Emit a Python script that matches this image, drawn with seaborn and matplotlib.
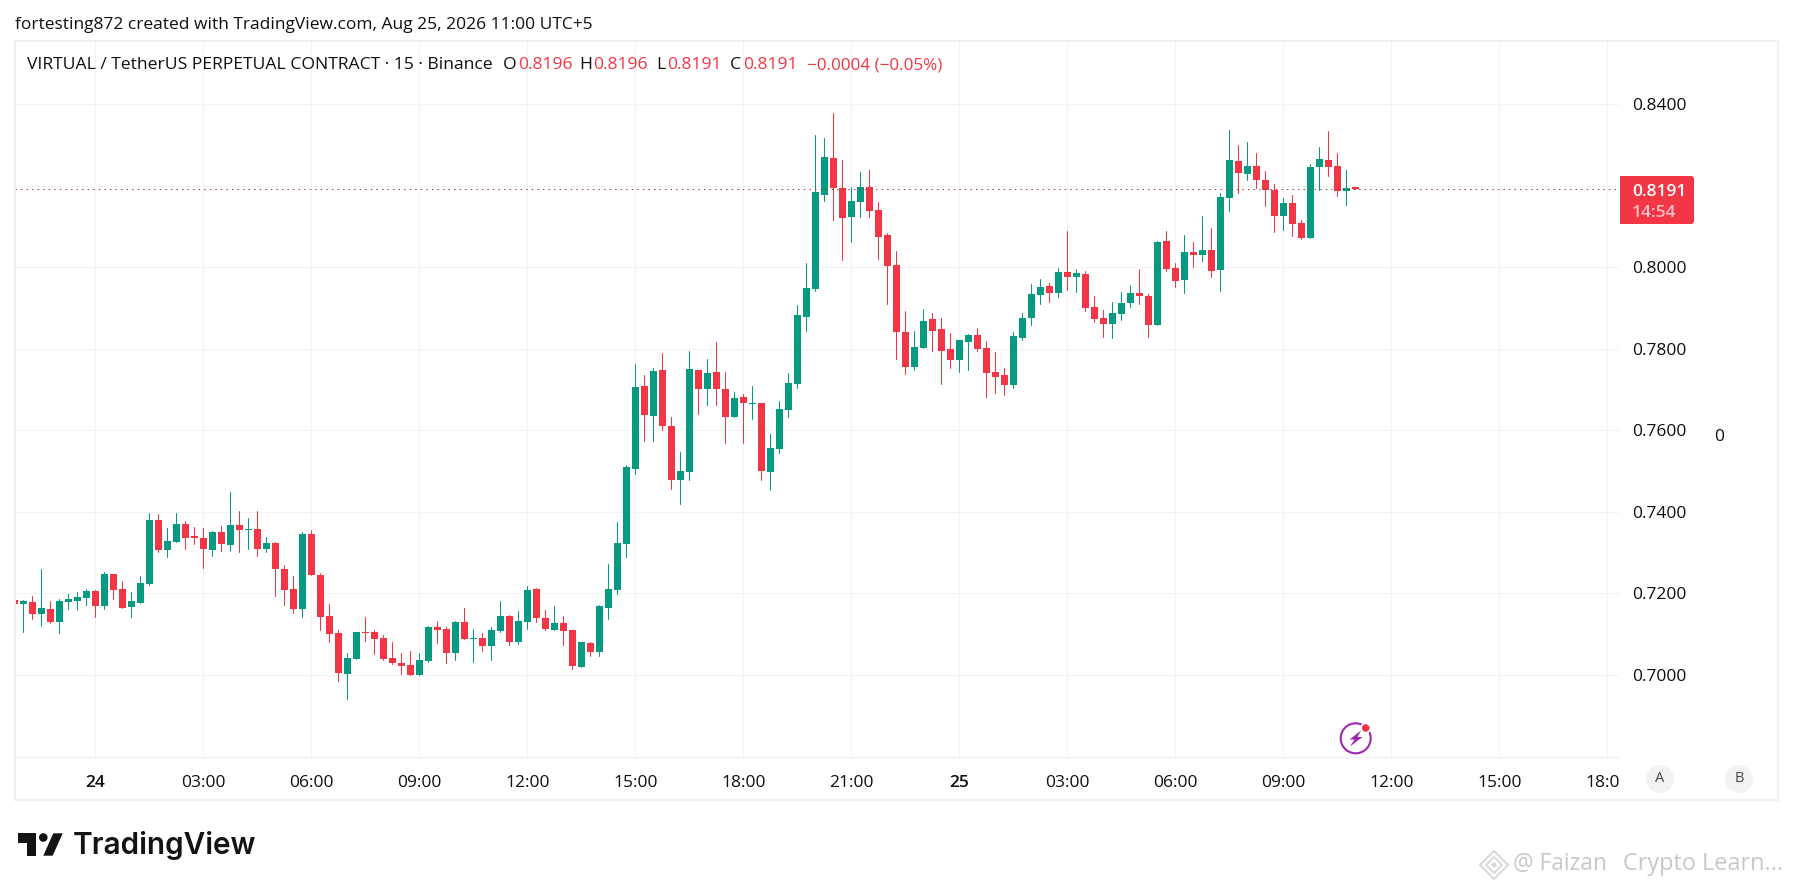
import numpy as np
import pandas as pd
import seaborn as sns
import matplotlib
matplotlib.use("Agg")
import matplotlib.pyplot as plt
from matplotlib.patches import Rectangle, FancyBboxPatch, Circle, Polygon
from matplotlib.transforms import Bbox

# 15 minute candles, bar 0 is the 24th 00:00
bars = list(range(-9, 141))

opens = [.7183, .7173, .7178, .7149, .7161, .7129, .7178, .7180, .7188,
         .7205, .7168, .7247, .7210, .7166, .7176, .7222, .7379, .7306, .7325, .7370, .7340,
         .7335, .7306, .7350, .7318, .7367, .7355, .7357, .7308, .7323, .7259, .7210, .7161,
         .7345, .7244, .7144, .7102, .7001, .7038, .7104, .7104, .7090, .7041, .7028, .7023,
         .6999, .7033, .7117, .7112, .7053, .7129, .7087, .7090, .7070, .7107, .7144, .7080,
         .7129, .7210, .7139, .7109, .7126, .7109, .7018, .7077, .7055, .7163, .7207, .7320,
         .7505, .7708, .7635, .7748, .7610, .7478, .7497, .7748, .7701, .7743, .7701, .7632,
         .7681, .7664, .7667, .7497, .7554, .7649, .7713, .7878, .7947, .8177, .8268, .8195,
         .8123, .8160, .8197, .8141, .8079, .8006, .7841, .7755, .7802, .7873, .7848, .7799,
         .7772, .7816, .7834, .7802, .7743, .7735, .7711, .7826, .7875, .7932, .7954, .7937,
         .7988, .7976, .7983, .7902, .7875, .7861, .7885, .7912, .7937, .7929, .7858, .8064,
         .7998, .7969, .8037, .8030, .8042, .7993, .8170, .8261, .8229, .8249, .8214, .8190,
         .8126, .8158, .8109, .8072, .8246, .8263, .8249, .8187, .8196]

highs = [.7183, .7183, .7193, .7259, .7180, .7185, .7198, .7203, .7210,
         .7207, .7252, .7247, .7230, .7203, .7242, .7397, .7394, .7360, .7397, .7377, .7362,
         .7360, .7352, .7365, .7448, .7401, .7384, .7401, .7338, .7325, .7269, .7242, .7350,
         .7355, .7249, .7173, .7109, .7053, .7104, .7141, .7109, .7097, .7080, .7053, .7058,
         .7053, .7119, .7131, .7117, .7131, .7163, .7112, .7102, .7117, .7180, .7146, .7156,
         .7217, .7212, .7158, .7168, .7144, .7109, .7080, .7080, .7171, .7271, .7374, .7514,
         .7762, .7735, .7753, .7789, .7632, .7546, .7794, .7748, .7775, .7816, .7743, .7694,
         .7689, .7708, .7667, .7591, .7672, .7740, .7907, .8010, .8325, .8317, .8379, .8263,
         .8197, .8234, .8239, .8160, .8084, .8040, .7893, .7843, .7898, .7888, .7875, .7839,
         .7821, .7836, .7851, .7819, .7792, .7753, .7841, .7888, .7959, .7971, .7961, .7998,
         .8089, .7996, .7991, .7929, .7895, .7915, .7939, .7956, .7996, .7934, .8064, .8089,
         .8010, .8079, .8062, .8126, .8096, .8182, .8337, .8300, .8308, .8281, .8236, .8204,
         .8170, .8177, .8116, .8254, .8295, .8335, .8281, .8239, .8196]

lows = [.7173, .7104, .7136, .7119, .7126, .7102, .7161, .7158, .7171,
        .7141, .7161, .7185, .7163, .7141, .7176, .7220, .7301, .7289, .7325, .7308, .7320,
        .7262, .7291, .7303, .7303, .7301, .7308, .7291, .7301, .7193, .7171, .7151, .7141,
        .7244, .7109, .7080, .6984, .6940, .7038, .7082, .7050, .7036, .7026, .7001, .6999,
        .6999, .7031, .7077, .7028, .7036, .7087, .7031, .7058, .7036, .7104, .7072, .7075,
        .7112, .7129, .7109, .7109, .7072, .7014, .7018, .7045, .7045, .7136, .7198, .7289,
        .7492, .7573, .7573, .7600, .7455, .7419, .7478, .7640, .7662, .7662, .7568, .7632,
        .7568, .7627, .7478, .7453, .7544, .7632, .7704, .7843, .7942, .8163, .8116, .8018,
        .8062, .8123, .8123, .8020, .7910, .7775, .7738, .7748, .7802, .7794, .7713, .7753,
        .7743, .7748, .7794, .7681, .7691, .7686, .7704, .7821, .7858, .7910, .7915, .7927,
        .7944, .7939, .7893, .7866, .7829, .7826, .7870, .7902, .7910, .7829, .7858, .7991,
        .7952, .7937, .8001, .8015, .7976, .7942, .8138, .8182, .8214, .8195, .8150, .8087,
        .8091, .8077, .8069, .8072, .8190, .8224, .8175, .8153, .8191]

closes = [.7173, .7180, .7149, .7163, .7129, .7180, .7185, .7190, .7205,
          .7168, .7247, .7207, .7163, .7180, .7225, .7379, .7306, .7328, .7370, .7335, .7335,
          .7308, .7350, .7320, .7367, .7355, .7357, .7308, .7323, .7259, .7207, .7161, .7345,
          .7244, .7141, .7099, .7004, .7041, .7104, .7102, .7087, .7038, .7028, .7021, .6999,
          .7036, .7117, .7109, .7053, .7129, .7087, .7090, .7070, .7109, .7144, .7080, .7131,
          .7207, .7139, .7112, .7126, .7107, .7021, .7080, .7055, .7168, .7210, .7323, .7510,
          .7706, .7637, .7745, .7610, .7478, .7500, .7750, .7701, .7740, .7701, .7632, .7679,
          .7667, .7667, .7500, .7556, .7652, .7716, .7883, .7949, .8185, .8271, .8195, .8121,
          .8163, .8197, .8138, .8074, .8003, .7841, .7755, .7804, .7868, .7843, .7794, .7772,
          .7821, .7834, .7799, .7740, .7731, .7711, .7831, .7875, .7934, .7952, .7937, .7988,
          .7976, .7986, .7900, .7873, .7861, .7888, .7912, .7937, .7929, .7858, .8062, .7996,
          .7966, .8037, .8030, .8042, .7991, .8172, .8263, .8231, .8249, .8214, .8190, .8126,
          .8158, .8106, .8072, .8246, .8266, .8246, .8187, .8195, .8191]

price_ticks = [0.70, 0.72, 0.74, 0.76, 0.78, 0.80, 0.84]
price_grid = [0.82]
time_ticks = list(range(0, 169, 12))
time_labels = ["24", "03:00", "06:00", "09:00", "12:00", "15:00", "18:00", "21:00",
               "25", "03:00", "06:00", "09:00", "12:00", "15:00", "18:00"]
last_price = 0.8191

GREEN = "#089981"
RED = "#F23645"
GRID = "#F3F3F4"
INK = "#0F0F0F"
W, H = 1793, 890

sns.set_theme(style="white")
plt.rcParams["font.family"] = ["Open Sans", "DejaVu Sans"]

df = pd.DataFrame({"bar": bars, "open": opens, "high": highs, "low": lows, "close": closes})
df["dir"] = np.where(df["close"] >= df["open"], "up", "down")
wicks = df.melt(id_vars=["bar", "dir"], value_vars=["high", "low"], value_name="price")
wicks = wicks.sort_values("bar")

fig = plt.figure(figsize=(W / 100, H / 100), dpi=100, facecolor="white")
ax = fig.add_axes([15 / W, 1 - 757 / H, (1619 - 15) / W, (757 - 41) / H])

sns.lineplot(data=wicks, x="bar", y="price", hue="dir", units="bar", estimator=None,
             palette={"up": GREEN, "down": RED}, lw=0.75, sort=False, legend=False, ax=ax)

for d, col in (("up", GREEN), ("down", RED)):
    part = df[df["dir"] == d]
    ax.bar(part["bar"], (part["close"] - part["open"]).abs(),
           bottom=part[["open", "close"]].min(axis=1),
           width=0.78, color=col, linewidth=0, zorder=3)

ax.axhline(last_price, color="#A8323F", lw=0.75, ls=(0, (1.33, 4)), zorder=4)

ax.set_xlim(-8.944, 169.28)
ax.set_ylim(0.6798, 0.8555)
ax.set_xlabel("")
ax.set_ylabel("")
ax.yaxis.tick_right()
ax.set_yticks(price_ticks, [f"{t:.4f}" for t in price_ticks])
ax.set_yticks(price_grid, minor=True)
ax.set_xticks(time_ticks, time_labels)
ax.grid(True, which="both", color=GRID, lw=0.8)
ax.set_axisbelow(True)
ax.tick_params(axis="y", which="both", length=0, pad=9.5, labelsize=12.5, labelcolor=INK)
ax.tick_params(axis="x", length=0, pad=13, labelsize=12.5, labelcolor=INK)
for lab in ax.get_xticklabels():
    if lab.get_text() in ("24", "25"):
        lab.set_fontweight("semibold")
# the last label runs under the price scale
last_lab = ax.get_xticklabels()[-1]
last_lab.set_clip_on(True)
last_lab.set_clip_box(Bbox([[0, 0], [1619, H]]))

for side in ("top", "left", "right"):
    ax.spines[side].set_visible(False)
ax.spines["bottom"].set_color("#EFEFEF")
ax.spines["bottom"].set_linewidth(0.8)

# everything around the chart, in pixel units
ov = fig.add_axes([0, 0, 1, 1], zorder=5)
ov.set_xlim(0, W)
ov.set_ylim(H, 0)
ov.axis("off")
ov.patch.set_alpha(0)

ov.add_patch(Rectangle((15, 41), 1763, 759, fill=False, ec="#F0F0F0", lw=1.5))

ov.text(15, 29, "fortesting872 created with TradingView.com, Aug 25, 2026 11:00 UTC+5",
        fontsize=12.55, color=INK, va="baseline")
ov.text(27, 69, "VIRTUAL / TetherUS PERPETUAL CONTRACT · 15 · Binance",
        fontsize=12.6, color=INK, va="baseline")
for x, t, col in [(503, "O", INK), (518, "0.8196", RED), (579, "H", INK), (593, "0.8196", RED),
                  (656, "L", INK), (667, "0.8191", RED), (730, "C", INK), (743, "0.8191", RED)]:
    ov.text(x, 69, t, fontsize=12.6, color=col, va="baseline")
ov.text(807, 69, "−0.0004 (−0.05%)", fontsize=12.3, color=RED, va="baseline")

# last price tag
ov.add_patch(FancyBboxPatch((1620, 176), 74, 48, boxstyle="round,pad=0,rounding_size=3",
                            fc=RED, ec="none"))
ov.add_patch(Rectangle((1620, 176), 6, 48, fc=RED, ec="none"))
ov.text(1632, 196, "0.8191", fontsize=12.5, fontweight="semibold", color="white", va="baseline")
ov.text(1632, 217, "14:54", fontsize=12.5, fontweight="semibold", color="#FBC3C8", va="baseline")

ov.text(1714, 441, "0", fontsize=12.5, color=INK, va="baseline")

for cx, t in [(1660, "A"), (1739, "B")]:
    ov.add_patch(Circle((cx, 779), 14, fc="#F2F2F2", ec="none"))
    ov.text(cx, 779, t, fontsize=10.5, color="#4A4A4A", ha="center", va="center")

# lightning badge
ov.add_patch(Circle((1355.7, 738.3), 15, fc="white", ec="#9C27B0", lw=1.5))
ov.add_patch(Polygon([(1361, 730.5), (1349.5, 739.5), (1354.5, 739.5), (1350, 746.5),
                      (1362.5, 737), (1357.5, 737)], fc="#9C27B0", ec="none"))
ov.add_patch(Circle((1365.7, 728), 5.5, fc="white", ec="none"))
ov.add_patch(Circle((1365.7, 728), 3.8, fc=RED, ec="none"))

# TradingView logo
ov.add_patch(Polygon([(18, 833.3), (35.7, 833.3), (35.7, 855.7), (26.7, 855.7),
                      (26.7, 842.7), (18, 842.7)], fc="#131313", ec="none"))
ov.add_patch(Circle((43.3, 837.5), 4.3, fc="#131313", ec="none"))
ov.add_patch(Polygon([(53.3, 833.3), (62.7, 833.3), (52.7, 855.7), (43.3, 855.7)],
                     fc="#131313", ec="none"))
ov.text(73, 846, "TradingView", fontsize=21.4, fontweight="semibold", family="Inter",
        color="#131313", va="center")

# watermark
for half in (14, 8):
    ov.add_patch(Polygon([(1494, 865 - half), (1494 + half, 865), (1494, 865 + half),
                          (1494 - half, 865)], fill=False, ec="#D6D6D6", lw=1.3))
ov.add_patch(Polygon([(1494, 862), (1497, 865), (1494, 868), (1491, 865)], fc="#D6D6D6", ec="none"))
ov.text(1513, 864, "@ Faizan", fontsize=16.5, color="#C8C8C8", va="center")
ov.text(1623, 864, "Crypto Learn...", fontsize=16.9, color="#C8C8C8", va="center")

fig.savefig("out.png", dpi=100)
